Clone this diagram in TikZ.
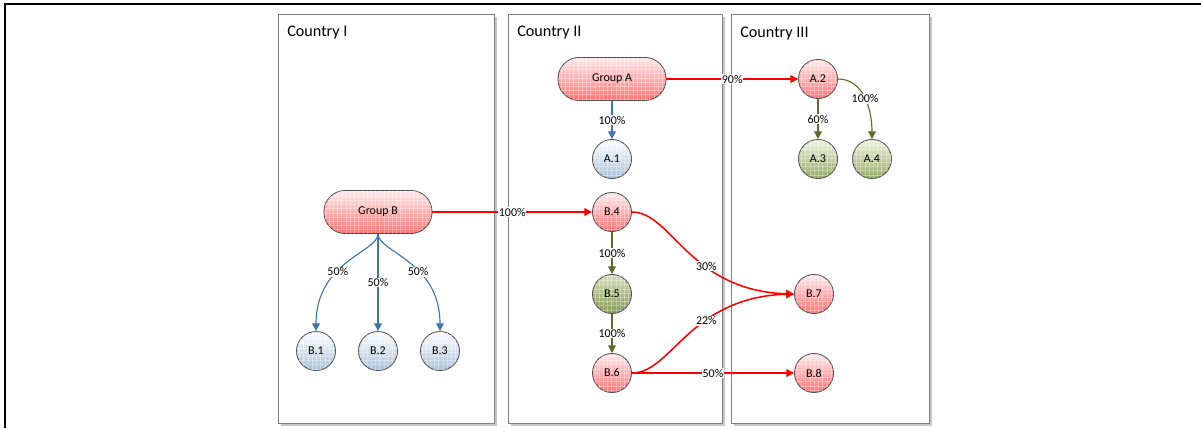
\documentclass[tikz,border=0pt]{standalone}
\usepackage{fontspec}
\setmainfont{Carlito}
\usetikzlibrary{arrows.meta,shadows,patterns}

\definecolor{linkred}{HTML}{FF0000}
\definecolor{linkblue}{HTML}{3E75AE}
\definecolor{linkolive}{HTML}{5F6B2C}
\definecolor{edgegray}{HTML}{4A4A4A}
\definecolor{boxgray}{HTML}{808080}
\definecolor{olivetop}{HTML}{EEF3E0}
\definecolor{olivebottom}{HTML}{96AA62}

\tikzset{
  country/.style={draw=boxgray, line width=0.7pt, fill=white, anchor=north west,
    inner sep=0pt, minimum height=10.225cm,
    drop shadow={shadow xshift=1.5pt, shadow yshift=-1.5pt, fill=gray!45, opacity=1}},
  countryname/.style={anchor=base west, inner sep=0pt, font=\fontsize{11.5}{13}\selectfont},
  entity/.style={draw=edgegray, line width=0.6pt, inner sep=0pt,
    font=\fontsize{8.5}{10}\selectfont,
    postaction={pattern=grid, pattern color=white, opacity=0.3}},
  holding/.style={entity, rectangle, rounded corners=15pt, minimum width=2.7cm, minimum height=1.075cm},
  company/.style={entity, circle, minimum size=0.975cm},
  redfill/.style={top color=red!8, bottom color=red!55},
  bluefill/.style={top color=white, bottom color=linkblue!45},
  olivefill/.style={top color=olivetop, bottom color=olivebottom},
  darkolivefill/.style={top color=olivetop!70!olivebottom, bottom color=olivebottom!90!black},
  link/.style={line width=0.8pt, -{Triangle[length=5.5pt,width=5.5pt]}},
  redlink/.style={link, draw=linkred, line width=1.1pt},
  bluelink/.style={link, draw=linkblue},
  olivelink/.style={link, draw=linkolive},
  pct/.style={fill=white, inner sep=0.6pt, font=\fontsize{8.5}{10}\selectfont}
}

\begin{document}
\begin{tikzpicture}[x=0.025cm, y=-0.025cm]
    \useasboundingbox (0,0) rectangle (1201,428);
    \draw[line width=1.4pt] (5,428) -- (5,3.7) -- (1201,3.7);

    \node[country, minimum width=5.4cm] (c1) at (278,14) {};
    \node[country, minimum width=5.35cm] (c2) at (508,14) {};
    \node[country, minimum width=4.95cm] (c3) at (731,14) {};
    \node[countryname] (n1) at (287,36) {Country I};
    \node[countryname] (n2) at (517,36) {Country II};
    \node[countryname] (n3) at (740,37) {Country III};

    \node[holding, redfill] (ga) at (612,79) {Group A};
    \node[holding, redfill] (gb) at (378,212) {Group B};
    \node[company, bluefill] (a1) at (612,159) {A.1};
    \node[company, redfill] (a2) at (818,79) {A.2};
    \node[company, olivefill] (a3) at (818,159) {A.3};
    \node[company, olivefill] (a4) at (872,159) {A.4};
    \node[company, bluefill] (b1) at (316,351) {B.1};
    \node[company, bluefill] (b2) at (378,351) {B.2};
    \node[company, bluefill] (b3) at (440,351) {B.3};
    \node[company, redfill] (b4) at (612,212) {B.4};
    \node[company, darkolivefill] (b5) at (612,294) {B.5};
    \node[company, redfill] (b6) at (612,373) {B.6};
    \node[company, redfill] (b7) at (814,294) {B.7};
    \node[company, redfill] (b8) at (814,373) {B.8};

    \draw[redlink] (ga) -- node[pct] {90\%} (a2);
    \draw[bluelink] (ga) -- node[pct] {100\%} (a1);
    \draw[olivelink] (a2) -- node[pct] {60\%} (a3);
    \draw[olivelink] (a2.east) to[out=0,in=90] node[pct] {100\%} (a4.north);
    \draw[redlink] (gb) -- node[pct] {100\%} (b4);
    \draw[bluelink] (gb.south) .. controls +(0,18) and +(0,-70) .. node[pct,pos=0.6] {50\%} (b1.north);
    \draw[bluelink] (gb) -- node[pct] {50\%} (b2);
    \draw[bluelink] (gb.south) .. controls +(0,18) and +(0,-70) .. node[pct,pos=0.6] {50\%} (b3.north);
    \draw[olivelink] (b4) -- node[pct] {100\%} (b5);
    \draw[olivelink] (b5) -- node[pct] {100\%} (b6);
    \draw[redlink] (b4.east) .. controls +(40,0) and +(-105,-3) .. node[pct,pos=0.62] {30\%} (b7.west);
    \draw[redlink] (b6.east) .. controls +(40,0) and +(-105,3) .. node[pct,pos=0.62] {22\%} (b7.west);
    \draw[redlink] (b6) -- node[pct] {50\%} (b8);
\end{tikzpicture}
\end{document}
